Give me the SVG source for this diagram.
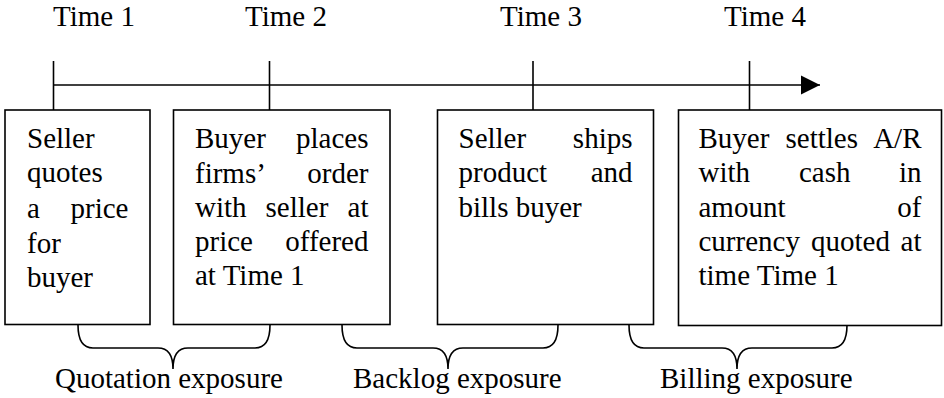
<svg xmlns="http://www.w3.org/2000/svg" width="944" height="398" viewBox="0 0 944 398">
<defs>
<style>
.t text{font-size:29px;fill:#000}
.e{text-anchor:end}
.box{fill:#fff;stroke:#000;stroke-width:1.6}
.ln{fill:none;stroke:#000;stroke-width:1.6}
</style>
<marker id="ah" markerWidth="20" markerHeight="20" refX="19" refY="10" orient="auto" markerUnits="userSpaceOnUse">
<path d="M0,0.5 L19,10 L0,19.5 Z" fill="#000"/>
</marker>
</defs>
<rect width="944" height="398" fill="#fff"/>
<g class="t" font-family="'Liberation Serif', 'Times New Roman', 'DejaVu Serif', serif">
<g id="time-labels">
<text x="53" y="26">Time 1</text>
<text x="245" y="26">Time 2</text>
<text x="500" y="26">Time 3</text>
<text x="724" y="26">Time 4</text>
</g>
<g id="connectors">
<line class="ln" x1="53.5" y1="85" x2="820" y2="85" marker-end="url(#ah)"/>
<line class="ln" x1="53.5" y1="61" x2="53.5" y2="110"/>
<line class="ln" x1="269.5" y1="61" x2="269.5" y2="110"/>
<line class="ln" x1="533" y1="61" x2="533" y2="110"/>
<line class="ln" x1="749.5" y1="61" x2="749.5" y2="110"/>
<path class="ln" d="M78,325 Q78,348 93,348 L158,348 Q173,348 173,369 Q173,348 188,348 L255,348 Q270,348 270,325"/>
<path class="ln" d="M342,325 Q342,348 357,348 L433,348 Q448,348 448,369 Q448,348 463,348 L543,348 Q558,348 558,325"/>
<path class="ln" d="M629,325 Q629,348 644,348 L722,348 Q737,348 737,369 Q737,348 752,348 L832,348 Q847,348 847,325"/>
</g>
<g id="box1">
<rect class="box" x="5" y="110" width="145" height="214.5"/>
<text x="27" y="148">Seller</text>
<text x="27" y="182">quotes</text>
<text x="27" y="218">a</text><text class="e" x="128.5" y="218">price</text>
<text x="27" y="253">for</text>
<text x="27" y="287">buyer</text>
</g>
<g id="box2">
<rect class="box" x="173.5" y="110" width="216.5" height="214.5"/>
<text x="195" y="148">Buyer</text><text class="e" x="368.5" y="148">places</text>
<text x="195" y="182.5">firms’</text><text class="e" x="368.5" y="182.5">order</text>
<text x="195" y="216.5">with</text><text x="265.5" y="216.5">seller</text><text class="e" x="368.5" y="216.5">at</text>
<text x="195" y="251">price</text><text class="e" x="368.5" y="251">offered</text>
<text x="195" y="285">at Time 1</text>
</g>
<g id="box3">
<rect class="box" x="437.5" y="110" width="216" height="214.5"/>
<text x="458.5" y="148">Seller</text><text class="e" x="632.5" y="148">ships</text>
<text x="458.5" y="182">product</text><text class="e" x="632.5" y="182">and</text>
<text x="458.5" y="216.5">bills buyer</text>
</g>
<g id="box4">
<rect class="box" x="678.5" y="110" width="263" height="215.5"/>
<text x="698.5" y="148">Buyer</text><text x="785.5" y="148">settles</text><text class="e" x="921.5" y="148">A/R</text>
<text x="698.5" y="182">with</text><text x="799" y="182">cash</text><text class="e" x="921.5" y="182">in</text>
<text x="698.5" y="217">amount</text><text class="e" x="921.5" y="217">of</text>
<text x="698.5" y="251">currency</text><text x="811" y="251">quoted</text><text class="e" x="921.5" y="251">at</text>
<text x="698.5" y="285">time Time 1</text>
</g>
<g id="exposure-labels">
<text x="55" y="388">Quotation exposure</text>
<text x="353" y="388">Backlog exposure</text>
<text x="660" y="388">Billing exposure</text>
</g>
</g>
</svg>
